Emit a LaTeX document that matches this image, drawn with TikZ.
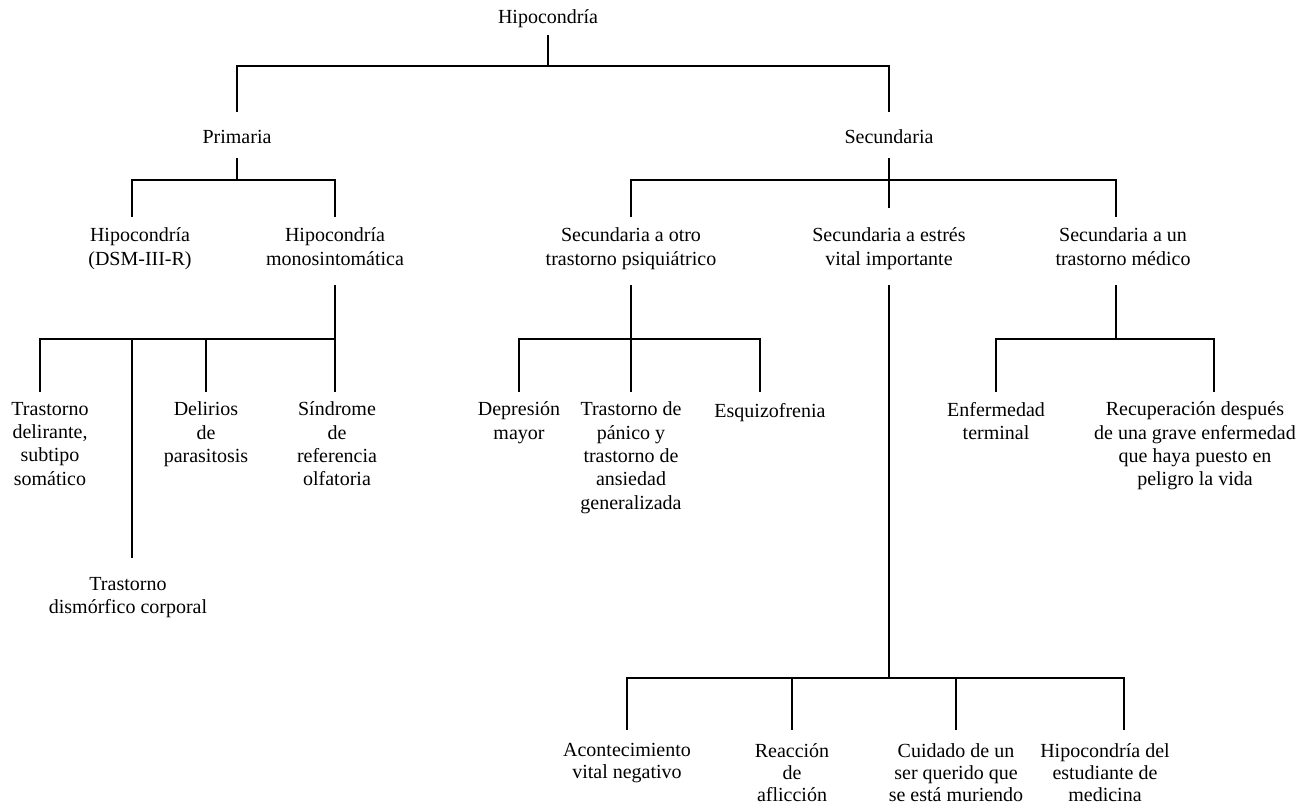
\documentclass[tikz,border=0pt]{standalone}
\usepackage{fontspec}
\setmainfont{Liberation Serif}
\begin{document}
\begin{tikzpicture}[x=0.75pt,y=-0.75pt,
  lbl/.style={anchor=north,align=center,inner sep=0pt,
    font=\fontsize{15}{17.5}\selectfont,
    execute at begin node={\rule{0pt}{11.5pt}}},
  lowlbl/.style={lbl,font=\fontsize{15}{16.5}\selectfont},
  conn/.style={line width=1.2pt,line join=miter}]
\useasboundingbox (0,0) rectangle (1300,810);

% ---- labels ----
\node[lbl] (root)   at (548,7.7)   {Hipocondría};
\node[lbl] (prim)   at (237,127.7) {Primaria};
\node[lbl] (sec)    at (889,127.7) {Secundaria};

\node[lbl] (dsm)    at (140,227.7)  {Hipocondría\\(DSM-III-R)};
\node[lbl] (mono)   at (335,227.7)  {Hipocondría\\monosintomática};
\node[lbl] (otro)   at (631,227.7)  {Secundaria a otro\\trastorno psiquiátrico};
\node[lbl] (estres) at (889,227.7)  {Secundaria a estrés\\vital importante};
\node[lbl] (medico) at (1123,227.7) {Secundaria a un\\trastorno médico};

\node[lbl] (delir)  at (50,401.7)   {Trastorno\\delirante,\\subtipo\\somático};
\node[lbl] (paras)  at (206,401.7)  {Delirios\\de\\parasitosis};
\node[lbl] (olf)    at (337,401.7)  {Síndrome\\de\\referencia\\olfatoria};
\node[lbl] (dism)   at (128,576.7)  {Trastorno\\dismórfico corporal};

\node[lbl] (dep)    at (519,401.7)  {Depresión\\mayor};
\node[lbl] (pan)    at (631,401.7)  {Trastorno de\\pánico y\\trastorno de\\ansiedad\\generalizada};
\node[lbl] (esq)    at (770,401.7)  {Esquizofrenia};

\node[lbl] (term)   at (996,401.7)  {Enfermedad\\terminal};
\node[lbl] (recup)  at (1195,401.7) {Recuperación después\\de una grave enfermedad\\que haya puesto en\\peligro la vida};

\node[lowlbl] (acont)  at (627,743)  {Acontecimiento\\vital negativo};
\node[lowlbl] (reac)   at (792,743)  {Reacción\\de\\aflicción};
\node[lowlbl] (cuid)   at (956,743)  {Cuidado de un\\ser querido que\\se está muriendo};
\node[lowlbl] (est)    at (1105,743) {Hipocondría del\\estudiante de\\medicina};

% ---- levels of the connector tree ----
\coordinate (r0)  at (0,35);
\coordinate (b0)  at (0,66);
\coordinate (t1)  at (0,112);
\coordinate (s1)  at (0,158);
\coordinate (b1)  at (0,180);
\coordinate (t2)  at (0,217);
\coordinate (t2m) at (0,208);
\coordinate (s2)  at (0,285);
\coordinate (b2)  at (0,339);
\coordinate (t3)  at (0,392);
\coordinate (t3d) at (0,558);
\coordinate (b3)  at (0,678);
\coordinate (t4)  at (0,730);

% root
\draw[conn] (root |- r0) -- (root |- b0);
\draw[conn] (prim |- t1) -- (prim |- b0) -- (sec |- b0) -- (sec |- t1);

% Primaria
\draw[conn] (prim |- s1) -- (prim |- b1);
\draw[conn] ([xshift=-6pt]dsm.north |- t2) -- ([xshift=-6pt]dsm.north |- b1)
  -- (mono |- b1) -- (mono |- t2);

% Secundaria
\draw[conn] (sec |- s1) -- (sec |- t2m);
\draw[conn] (otro |- t2) -- (otro |- b1) -- ([xshift=-5.25pt]medico.north |- b1)
  -- ([xshift=-5.25pt]medico.north |- t2);

% monosintomatica
\draw[conn] (mono |- s2) -- (mono |- b2);
\draw[conn] ([xshift=-7.5pt]delir.north |- t3) -- ([xshift=-7.5pt]delir.north |- b2)
  -- (mono |- b2) -- (mono |- t3);
\draw[conn] (paras |- b2) -- (paras |- t3);
\draw[conn] ([xshift=-6pt]dsm.north |- b2) -- ([xshift=-6pt]dsm.north |- t3d);

% otro trastorno psiquiatrico
\draw[conn] (otro |- s2) -- (otro |- b2);
\draw[conn] (dep |- t3) -- (dep |- b2) -- ([xshift=-7.5pt]esq.north |- b2)
  -- ([xshift=-7.5pt]esq.north |- t3);
\draw[conn] (pan |- b2) -- (pan |- t3);

% trastorno medico
\draw[conn] ([xshift=-5.25pt]medico.south |- s2) -- ([xshift=-5.25pt]medico.south |- b2);
\draw[conn] (term |- t3) -- (term |- b2) -- ([xshift=14.25pt]recup.north |- b2)
  -- ([xshift=14.25pt]recup.north |- t3);

% estres vital
\draw[conn] (estres |- s2) -- (estres |- b3);
\draw[conn] (acont |- t4) -- (acont |- b3) -- ([xshift=14.25pt]est.north |- b3)
  -- ([xshift=14.25pt]est.north |- t4);
\draw[conn] (reac |- b3) -- (reac |- t4);
\draw[conn] (cuid |- b3) -- (cuid |- t4);
\end{tikzpicture}
\end{document}
